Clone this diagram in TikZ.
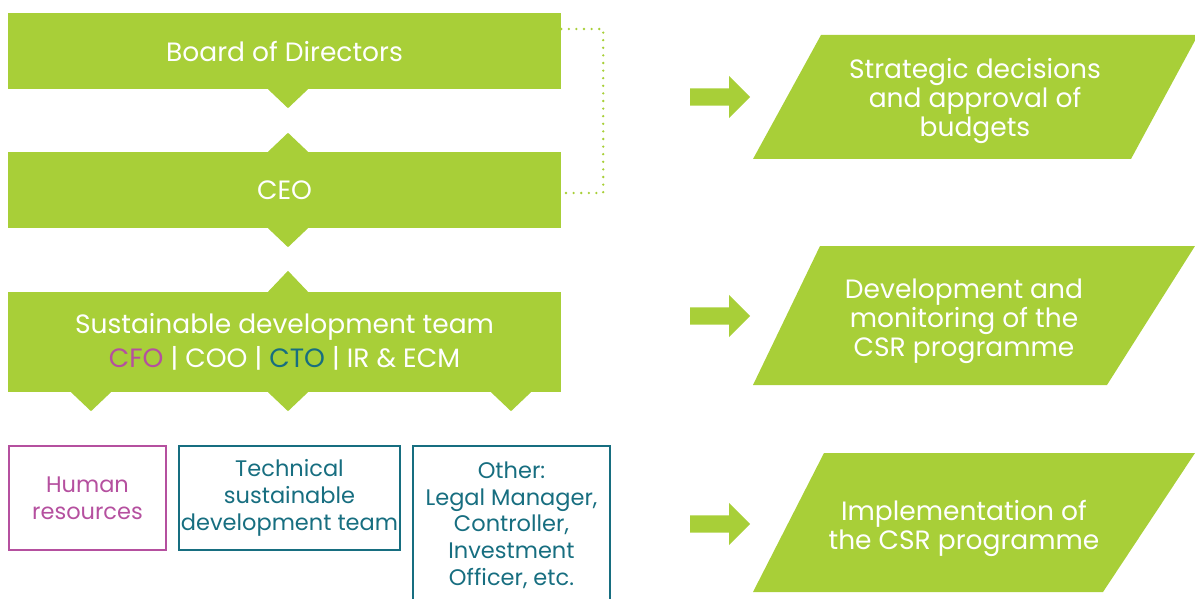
\documentclass[tikz,border=0pt]{standalone}
\usepackage{fontspec}
\setmainfont{Poppins}
\usetikzlibrary{shapes.arrows}
\definecolor{leaf}{HTML}{A8CF38}
\definecolor{orchid}{HTML}{B5509F}
\definecolor{petrol}{HTML}{176E80}
\begin{document}
\begin{tikzpicture}[x=1pt, y=-1pt,
	level/.style={fill=leaf, text=white, minimum width=553pt, inner sep=0pt, align=center, font=\fontsize{26.5}{34}\selectfont},
	unit/.style={draw=#1, text=#1, line width=2.2pt, inner sep=0pt, align=center, font=\fontsize{22.5}{26.7}\selectfont},
	task/.style={text=white, align=center, font=\fontsize{26.5}{29}\selectfont},
	pointer/.style={single arrow, fill=leaf, inner sep=8.5pt, minimum height=60pt, single arrow head extend=12.5pt, anchor=tail},
	link/.style={leaf, line width=2.6pt, dash pattern=on 0pt off 7.6pt, line cap=round}]
	\useasboundingbox (0,0) rectangle (1195,599);
	\clip (0,0) rectangle (1195,599);
	
	% hierarchy
	\node[level, minimum height=76pt] (board) at (284.5,51) {Board of Directors};
	\node[level, minimum height=76pt] (ceo) at (284.5,190) {CEO};
	\node[level, minimum height=100pt] (sdt) at (284.5,342) {Sustainable development team\\{\color{orchid}CFO} | COO | {\color{petrol}CTO} | IR \& ECM};
	
	\fill[leaf] (board.south) ++(-16.5,0) -- ++(20,19) -- ++(20,-19) -- cycle;
	\fill[leaf] (ceo.north) ++(-16.5,0) -- ++(20,-19) -- ++(20,19) -- cycle;
	\fill[leaf] (ceo.south) ++(-16.5,0) -- ++(20,19) -- ++(20,-19) -- cycle;
	\fill[leaf] (sdt.north) ++(-16.5,0) -- ++(20,-21) -- ++(20,21) -- cycle;
	\fill[leaf] (sdt.south) ++(-213.5,0) -- ++(20,19) -- ++(20,-19) -- cycle;
	\fill[leaf] (sdt.south) ++(-16.5,0) -- ++(20,19) -- ++(20,-19) -- cycle;
	\fill[leaf] (sdt.south) ++(206.5,0) -- ++(20,19) -- ++(20,-19) -- cycle;
	
	\draw[link] (board.east) ++(0,-22) -- ++(42,0) |- ([yshift=-3pt]ceo.east);
	
	% teams
	\node[unit=orchid, minimum width=157pt, minimum height=104pt] (hr) at (87.5,498) {Human\\resources};
	\node[unit=petrol, minimum width=221pt, minimum height=104pt] (tech) at (289.5,498) {Technical\\sustainable\\development team};
	\node[unit=petrol, minimum width=197pt, minimum height=158pt] (other) at (511.5,525) {Other:\\Legal Manager,\\Controller,\\Investment\\Officer, etc.};
	
	% roles
	\fill[leaf] (821,35) -- (1198,35) -- (1131,159) -- (753,159) -- cycle;
	\fill[leaf] (820,246) -- (1195,246) -- (1107,385) -- (753,385) -- cycle;
	\fill[leaf] (824,453) -- (1195,453) -- (1103,592) -- (753,592) -- cycle;
	\node[task] (strategy) at (975,101) {Strategic decisions\\and approval of\\budgets};
	\node[task] (monitor) at (964,321) {Development and\\monitoring of the\\CSR programme};
	\node[task] (implement) at (964,528) {Implementation of\\the CSR programme};
	
	\node[pointer] (go1) at (690,97) {};
	\node[pointer] (go2) at (690,316) {};
	\node[pointer] (go3) at (690,524) {};
\end{tikzpicture}
\end{document}
